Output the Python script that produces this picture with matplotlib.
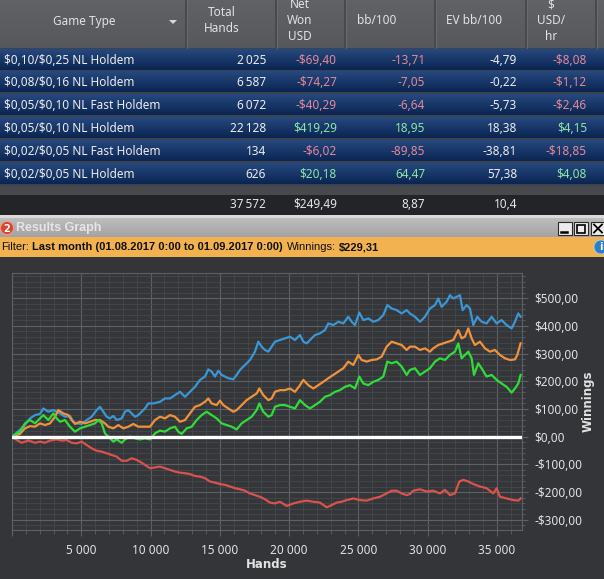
import matplotlib
matplotlib.use("Agg")
import matplotlib.pyplot as plt
import matplotlib.colors as mcolors
import numpy as np
from matplotlib.patches import Rectangle, Circle, Polygon
from matplotlib.ticker import MultipleLocator, FuncFormatter

plt.rcParams['font.family'] = ['Noto Sans', 'DejaVu Sans']
plt.rcParams['text.parse_math'] = False
BOLD = ['DejaVu Sans']
UI = ['Liberation Sans', 'DejaVu Sans']

W, H = 604, 579

# ---- stats table ----
game_types = ["$0,10/$0,25 NL Holdem", "$0,08/$0,16 NL Holdem", "$0,05/$0,10 NL Fast Holdem",
              "$0,05/$0,10 NL Holdem", "$0,02/$0,05 NL Fast Holdem", "$0,02/$0,05 NL Holdem"]
total_hands = [2025, 6587, 6072, 22128, 134, 626]
tbl_net_won = [-69.40, -74.27, -40.29, 419.29, -6.02, 20.18]
bb_100 = [-13.71, -7.05, -6.64, 18.95, -89.85, 64.47]
ev_bb_100 = [-4.79, -0.22, -5.73, 18.38, -38.81, 57.38]
usd_hr = [-8.08, -1.12, -2.46, 4.15, -18.85, 4.08]
sum_hands = 37572
sum_net_won = 249.49
sum_bb_100 = 8.87
sum_ev_bb_100 = 10.4

filter_text = "Last month (01.08.2017 0:00 to 01.09.2017 0:00)"
winnings = 229.31

# ---- results graph (hands, $) ----
showdown_hands = [0, 818, 1299, 1660, 2021, 2261, 2622, 2983, 3464, 3824, 4185, 4426, 4666, 5027, 5388, 5748,
                  6109, 6350, 6590, 6831, 7071, 7312, 7552, 7913, 8153, 8394, 8634, 8875, 9115, 9356, 9596, 9837,
                  10197, 10678, 11039, 11400, 11760, 12121, 12482, 12843, 13203, 13564, 13925, 14165, 14406, 14646,
                  14887, 15127, 15368, 15608, 15969, 16210, 16450, 16811, 17172, 17532, 17773, 18013, 18254, 18494,
                  18735, 18975, 19336,
                  19697, 20058, 20419, 20780, 21020, 21261, 21501, 21862, 22223, 22583, 22824, 23185, 23545, 23906,
                  24267, 24507, 24748, 25060, 25349, 25710, 26071, 26431, 26792, 27081, 27393, 27754, 28115, 28476,
                  28716,
                  29076, 29437, 29798, 30159, 30519, 30760, 31000, 31361, 31602, 31842, 32083, 32323, 32515, 32804,
                  33045, 33285, 33574, 33886, 34247, 34608, 34969, 35329, 35690, 36051, 36291, 36532, 36700]
showdown_won = [0, 36, 66, 78, 82, 102, 90, 96, 84, 72, 75, 54, 48, 46, 60, 72, 96, 108, 90, 72, 66, 75, 60, 66,
                90, 96, 84, 72, 78, 90, 102, 120,
                120, 126, 138, 138, 150, 162, 144, 162, 180, 205, 217, 243, 235, 217, 238, 223, 217, 211, 207, 223,
                241, 259, 277, 307, 343, 325, 313, 307, 325, 343, 349,
                355, 361, 349, 367, 343, 337, 349, 367, 373, 385, 409, 403, 415, 409, 433, 415, 403, 448, 421, 427,
                415, 421, 439, 475, 463, 457, 445, 457, 445,
                433, 415, 433, 463, 475, 499, 469, 487, 511, 499, 505, 511, 457, 475, 463, 403, 433, 415, 409, 433,
                409, 421, 403, 391, 415, 445, 433]

allin_ev_hands = [0, 578, 938, 1299, 1660, 2021, 2381, 2742, 3103, 3343, 3704, 4065, 4305, 4546, 4907, 5267,
                  5628, 5989, 6350, 6710, 6951, 7312, 7672, 8033, 8394, 8755, 9115, 9476, 9957,
                  10317, 10678, 11039, 11400, 11760, 12121, 12482, 12843, 13203, 13564, 13925, 14165, 14406, 14767,
                  15007, 15248, 15608, 15969, 16210, 16570, 16931, 17292, 17653, 17845, 18134, 18494, 18735, 18975,
                  19336,
                  19697, 20058, 20419, 20780, 21020, 21381, 21742, 22102, 22463, 22824, 23185, 23545, 23906, 24267,
                  24628, 24988, 25229, 25590, 25950, 26311, 26672, 27033, 27393, 27754, 28115, 28476, 28716,
                  29076, 29437, 29798, 30159, 30399, 30760, 31121, 31481, 31842, 32203, 32443, 32684, 32924, 33165,
                  33405, 33766, 34127, 34487, 34848, 35209, 35570, 35931, 36291, 36460, 36700]
allin_ev_won = [0, 10, 30, 38, 36, 48, 42, 48, 72, 96, 84, 78, 60, 46, 54, 48, 54, 60, 60, 48, 36, 30, 42, 30,
                36, 46, 36, 36, 36,
                60, 72, 66, 78, 72, 54, 60, 84, 108, 114, 126, 138, 120, 114, 130, 114, 102, 90, 96, 114, 132, 144,
                156, 174, 150, 132, 138, 162, 168,
                168, 174, 162, 186, 205, 186, 174, 186, 198, 211, 223, 235, 247, 271, 259, 295, 277, 271, 277, 279,
                289, 325, 343, 337, 331, 313, 325,
                325, 313, 319, 307, 319, 331, 337, 343, 349, 385, 355, 361, 391, 355, 331, 343, 319, 307, 313, 295,
                283, 277, 279, 295, 337]

net_won_hands = [0, 578, 938, 1299, 1660, 2021, 2261, 2622, 2983, 3223, 3464, 3824, 4185, 4546, 4907, 5267,
                 5628, 5989, 6229, 6470, 6710, 7071, 7312, 7552, 7913, 8153, 8514, 8875, 9236, 9596, 9957,
                 10317, 10678, 11039, 11400, 11760, 12001, 12241, 12602, 12963, 13324, 13684, 14045, 14406, 14767,
                 15127, 15488, 15849, 16210, 16570, 16931, 17292, 17653, 17845, 18134, 18494, 18735, 18975, 19336,
                 19697, 20058, 20419, 20780, 21140, 21501, 21862, 22223, 22583, 22944, 23305, 23666, 24026, 24387,
                 24748, 25060, 25349, 25710, 26071, 26431, 26792, 27081, 27393, 27754, 28115, 28476, 28716,
                 29076, 29437, 29798, 30159, 30519, 30880, 31241, 31602, 31962, 32203, 32443, 32684, 32924, 33165,
                 33333, 33646, 33958, 34247, 34608, 34969, 35329, 35690, 36051, 36291, 36532, 36700]
net_won = [0, 18, 48, 60, 48, 66, 78, 60, 84, 66, 54, 60, 36, 18, 30, 36, 42, 48, 60, 48, 12, -6, -18, -10,
           -22, -10, 0, -6, -10, -6, -10,
           12, 22, 18, 30, 36, 18, 10, 30, 36, 60, 78, 90, 78, 66, 48, 42, 36, 26, 48, 60, 72, 96, 120, 90, 72,
           78, 108, 114,
           114, 108, 102, 132, 114, 102, 114, 126, 144, 150, 162, 168, 180, 186, 174, 217, 192, 186, 198, 205,
           217, 271, 265, 271, 253, 223, 241,
           247, 223, 235, 247, 271, 283, 277, 295, 307, 337, 283, 295, 307, 283, 223, 265, 241, 217, 223, 205,
           192, 180, 159, 174, 192, 223]

non_showdown_hands = [0, 337, 698, 1179, 1660, 2021, 2381, 2742, 3223, 3584, 3945, 4305, 4666, 5027, 5388, 5748,
                      6109, 6470, 6831, 7191, 7552, 7913, 8274, 8634, 8995, 9356, 9716, 9957,
                      10317, 10678, 11039, 11400, 11760, 12121, 12482, 12843, 13203, 13564, 13925, 14285, 14646,
                      15007, 15368, 15729, 16089, 16450, 16811, 17172, 17532, 17893, 18254, 18615, 18975, 19336,
                      19818, 20299, 20780, 21261, 21742, 22223, 22704, 23064, 23425, 23786, 24147, 24628, 25109,
                      25590, 26071, 26552, 27033, 27393, 27754, 28115, 28476, 28716,
                      28956, 29437, 29918, 30399, 30880, 31241, 31602, 31962, 32275, 32564, 32924, 33285, 33766,
                      34247, 34728, 34969, 35209, 35690, 36171, 36532, 36700]
non_showdown_won = [0, -12, -22, -14, -22, -18, -22, -14, -10, -14, -12, -22, -24, -18, -30, -42, -51, -54, -60,
                    -66, -72, -87, -87, -78, -84, -94, -106, -114,
                    -111, -108, -114, -120, -126, -130, -132, -135, -142, -144, -150, -162, -166, -171, -174, -180,
                    -186, -190, -195, -205, -211, -217, -226, -238, -241, -235,
                    -250, -241, -235, -231, -235, -238, -255, -247, -238, -235, -229, -223, -229, -231, -223, -217,
                    -205, -195, -195, -205, -211, -207,
                    -195, -190, -198, -195, -205, -192, -211, -205, -162, -156, -162, -171, -180, -186, -205, -186,
                    -217, -223, -229, -231, -223]


def money(v, decimals=2):
    s = f"{abs(v):.{decimals}f}".replace('.', ',')
    return ('-' if v < 0 else '') + '$' + s


def num(v):
    return f"{v:.2f}".replace('.', ',')


def hands_fmt(n):
    return f"{n:,}".replace(',', '\u2009')


fig = plt.figure(figsize=(W / 100, H / 100), dpi=100)
fig.patch.set_facecolor('#333538')

ov = fig.add_axes([0, 0, 1, 1])
ov.set_zorder(0)
ov.axis('off')


def box(x0, y0, x1, y1, color, z=1):
    ov.add_patch(Rectangle((x0, y0), x1 - x0, y1 - y0, facecolor=color, edgecolor='none', zorder=z))


def vgrad(x0, y0, x1, y1, top, bottom):
    c0 = np.array(mcolors.to_rgb(top))
    c1 = np.array(mcolors.to_rgb(bottom))
    t = np.linspace(0, 1, 40)[:, None]
    img = (c0 * (1 - t) + c1 * t)[:, None, :]
    ov.imshow(img, extent=[x0, x1, y1, y0], aspect='auto', interpolation='bilinear', zorder=2)


# header
vgrad(0, 0, W, 48, '#606265', '#56585b')
for sx in [186, 276, 345, 435, 526, 596]:
    ov.plot([sx, sx], [0, 48], color='#444649', lw=1.2, zorder=3)
    ov.plot([sx + 1.2, sx + 1.2], [0, 48], color='#6c6e72', lw=0.6, zorder=3)
hdr = dict(color='#e2e2e2', fontsize=8.5, ha='center', va='center', zorder=4)
ov.text(84, 21, "Game Type", **hdr)
ov.add_patch(Polygon([[169, 20], [177, 20], [173, 24]], closed=True, facecolor='#d8d8d8', edgecolor='none', zorder=4))
ov.text(222, 12, "Total", **hdr)
ov.text(222, 28, "Hands", **hdr)
ov.text(300, 5, "Net", **hdr)
ov.text(300, 21, "Won", **hdr)
ov.text(300, 37, "USD", **hdr)
ov.text(377, 21, "bb/100", **hdr)
ov.text(474, 21, "EV bb/100", **hdr)
ov.text(551, 5, "$", **hdr)
ov.text(551, 21, "USD/", **hdr)
ov.text(551, 37, "hr", **hdr)

# rows
box(0, 48, W, 186, '#3c4350')
pos_c, neg_c, white_c = '#8ee6a6', '#e3899b', '#ececec'
for i, g in enumerate(game_types):
    top = 49 + 22.9 * i
    vgrad(0, top, W, top + 20.6, '#26497f', '#0b2552')
    yc = top + 11
    rt = dict(fontsize=8.5, va='center', zorder=4)
    ov.text(4, yc, g, color=white_c, ha='left', **rt)
    ov.text(266, yc, hands_fmt(total_hands[i]), color=white_c, ha='right', **rt)
    ov.text(337, yc, money(tbl_net_won[i]), color=neg_c if tbl_net_won[i] < 0 else pos_c, ha='right', **rt)
    ov.text(425, yc, num(bb_100[i]), color=neg_c if bb_100[i] < 0 else pos_c, ha='right', **rt)
    ov.text(517, yc, num(ev_bb_100[i]), color=white_c, ha='right', **rt)
    ov.text(587, yc, money(usd_hr[i]), color=neg_c if usd_hr[i] < 0 else pos_c, ha='right', **rt)

# totals
box(0, 186, W, 195, '#47494c')
box(0, 195, W, 215, '#232427')
tt = dict(fontsize=8.5, va='center', ha='right', color='#e6e6e6', zorder=4)
ov.text(266, 205, hands_fmt(sum_hands), **tt)
ov.text(337, 205, money(sum_net_won), **tt)
ov.text(425, 205, num(sum_bb_100), **tt)
ov.text(517, 205, f"{sum_ev_bb_100:.2f}".rstrip('0').replace('.', ','), **tt)

# window title bar
box(0, 215, W, 218, '#dadada')
vgrad(0, 218, W, 237, '#bdbdbd', '#a3a3a3')
ov.add_patch(Circle((7, 228), 6.5, facecolor='#d9472b', edgecolor='#f0a090', lw=0.6, zorder=4))
ov.text(7, 228.5, "2", color='white', fontsize=7, fontweight='bold', family=BOLD,
        ha='center', va='center', zorder=5)
ov.text(16, 228, "Results Graph", color='#e6e6e6', fontsize=9, fontweight='bold', family=UI,
        ha='left', va='center', zorder=4)
for bx in [558, 574, 591]:
    ov.add_patch(Rectangle((bx, 222), 14, 13, facecolor='#ececec', edgecolor='#2a2a2a', lw=0.8, zorder=4))
ov.plot([561, 567], [232, 232], color='black', lw=1.8, zorder=5)
ov.add_patch(Rectangle((577, 224.5), 8, 8, facecolor='none', edgecolor='black', lw=1.2, zorder=5))
ov.plot([594, 602], [224.5, 232.5], color='black', lw=1.3, zorder=5)
ov.plot([594, 602], [232.5, 224.5], color='black', lw=1.3, zorder=5)

# filter bar
box(0, 237, W, 257, '#f1b24f')
ov.add_patch(Circle((601, 247), 7, facecolor='#2d7fc2', edgecolor='#a9d0f0', lw=0.6, zorder=4))
ov.text(601, 247.5, "i", color='white', fontsize=7, fontweight='bold', family=BOLD,
        ha='center', va='center', zorder=5)

# chart background
box(0, 257, W, H, '#333538')

ov.set_xlim(0, W)
ov.set_ylim(H, 0)

fig.canvas.draw()
rend = fig.canvas.get_renderer()
parts = [("Filter:", 'normal', 3.5), (filter_text, 'bold', 3.5), ("Winnings:", 'normal', 3.5),
         (money(winnings), 'bold', 0)]
fx = 1
for s, w, gap in parts:
    t = ov.text(fx, 247, s, fontsize=8, fontweight=w, family=UI, color='#111111',
                ha='left', va='center', zorder=4)
    fx += t.get_window_extent(rend).width + gap

# ---- results graph ----
ax = fig.add_axes([12 / W, (H - 530) / H, 510 / W, 257 / H])
ax.set_zorder(2)
ax.set_facecolor('#343639')

ax.plot(showdown_hands, showdown_won, color='#3b96d6', lw=1.6, zorder=3)
ax.plot(allin_ev_hands, allin_ev_won, color='#f0923c', lw=1.6, zorder=3)
ax.plot(net_won_hands, net_won, color='#2fdc3a', lw=1.6, zorder=3)
ax.plot(non_showdown_hands, non_showdown_won, color='#d9534c', lw=1.6, zorder=3)
ax.axhline(0, color='white', lw=2.4, zorder=4)

ax.set_xlim(0, 36800)
ax.set_ylim(-337, 591)

ax.xaxis.set_major_locator(MultipleLocator(5000))
ax.xaxis.set_minor_locator(MultipleLocator(1000))
ax.yaxis.set_major_locator(MultipleLocator(100))
ax.yaxis.set_minor_locator(MultipleLocator(20))
ax.xaxis.set_major_formatter(FuncFormatter(lambda v, _: '' if v <= 0 else f"{int(v):,}".replace(',', ' ')))
ax.yaxis.set_major_formatter(FuncFormatter(lambda v, _: money(v)))
ax.yaxis.tick_right()

ax.grid(which='major', color='#5d6064', lw=0.8, zorder=0)
ax.grid(which='minor', color='#45484c', lw=0.6, zorder=0)
ax.set_axisbelow(True)

ax.tick_params(axis='x', which='major', colors='#5d6064', labelcolor='#e2e2e2', labelsize=8.5, length=4, pad=6)
ax.tick_params(axis='x', which='minor', colors='#5d6064', length=3)
ax.tick_params(axis='y', which='major', colors='#5d6064', labelcolor='#e2e2e2', labelsize=8.5, length=4, pad=5)
ax.tick_params(axis='y', which='minor', colors='#5d6064', length=2.5)
for sp in ax.spines.values():
    sp.set_color('#5d6064')
    sp.set_linewidth(0.8)

ov.text(267, 564, "Hands", color='#e2e2e2', fontsize=8.5, fontweight='bold', family=BOLD,
        ha='center', va='center', zorder=4)
ov.text(588, 401, "Winnings", color='#e2e2e2', fontsize=8.5, fontweight='bold', family=BOLD, rotation=90,
        ha='center', va='center', zorder=4)

fig.savefig('out.png', dpi=100, facecolor=fig.get_facecolor())
